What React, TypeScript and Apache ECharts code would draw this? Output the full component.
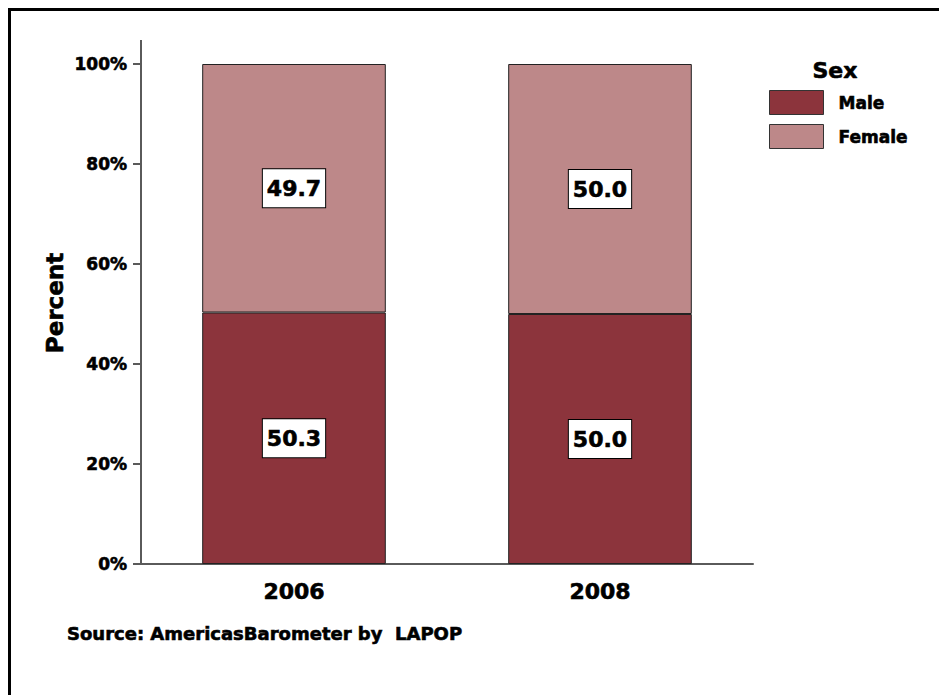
import React, { useEffect, useRef } from "react";
import * as echarts from "echarts";

const years = ["2006", "2008"];
const maleValues = [50.3, 50.0];
const femaleValues = [49.7, 50.0];
const yTicks = { min: 0, max: 100, interval: 20 };
const seriesNames = ["Male", "Female"];
const legendTitle = "Sex";
const axisTitle = "Percent";
const sourceText = "Source: AmericasBarometer by  LAPOP";

const FONT = "DejaVu Sans";
const MALE_COLOR = "#8c343c";
const FEMALE_COLOR = "#bd8889";
const AXIS_COLOR = "#5a5a5a";
const HEAVY = { textBorderColor: "#000000", textBorderWidth: 0.6 };

export default function App() {
  const ref = useRef<HTMLDivElement>(null);
  useEffect(() => {
    document.body.style.margin = "0";
    const chart = echarts.init(ref.current!, null, { renderer: "svg" });
    const labelStyle = {
      show: true,
      position: "inside",
      formatter: (p: any) => Number(p.value).toFixed(1),
      backgroundColor: "#ffffff",
      borderColor: "#000000",
      borderWidth: 1,
      padding: [9, 4, 7, 4],
      color: "#000000",
      fontFamily: FONT,
      fontWeight: "bold",
      fontSize: 22,
      ...HEAVY,
    };
    chart.setOption({
      animation: false,
      backgroundColor: "#ffffff",
      grid: { left: 141, right: 186, top: 64, bottom: 131 },
      legend: {
        orient: "vertical",
        left: 764,
        top: 85,
        itemWidth: 54,
        itemHeight: 24,
        itemGap: 9,
        icon: "rect",
        data: seriesNames,
        itemStyle: { borderColor: "#333333", borderWidth: 1 },
        textStyle: {
          fontFamily: FONT,
          fontWeight: "bold",
          fontSize: 17,
          color: "#000000",
          padding: [0, 0, 0, 10],
          ...HEAVY,
        },
      },
      xAxis: {
        type: "category",
        data: years,
        axisLine: { lineStyle: { color: AXIS_COLOR, width: 2 } },
        axisTick: { show: false },
        axisLabel: {
          margin: 16,
          fontFamily: FONT,
          fontWeight: "bold",
          fontSize: 22,
          color: "#000000",
          ...HEAVY,
        },
      },
      yAxis: {
        type: "value",
        min: yTicks.min,
        max: yTicks.max,
        interval: yTicks.interval,
        splitLine: { show: false },
        axisLine: { show: true, lineStyle: { color: AXIS_COLOR, width: 2 } },
        axisTick: { show: true, length: 8, lineStyle: { color: AXIS_COLOR, width: 2 } },
        axisLabel: {
          margin: 14,
          formatter: "{value}%",
          fontFamily: FONT,
          fontWeight: "bold",
          fontSize: 17,
          color: "#000000",
          ...HEAVY,
        },
      },
      series: [
        {
          name: seriesNames[0],
          type: "bar",
          stack: "total",
          barWidth: "60%",
          data: maleValues,
          itemStyle: { color: MALE_COLOR, borderColor: "#222222", borderWidth: 1 },
          label: labelStyle,
        },
        {
          name: seriesNames[1],
          type: "bar",
          stack: "total",
          barWidth: "60%",
          data: femaleValues,
          itemStyle: { color: FEMALE_COLOR, borderColor: "#222222", borderWidth: 1 },
          label: labelStyle,
        },
      ],
      graphic: [
        {
          type: "rect",
          shape: { x: 9.5, y: 9.5, width: 1000, height: 1000 },
          style: { fill: "none", stroke: "#000000", lineWidth: 3 },
          silent: true,
        },
        {
          type: "line",
          shape: { x1: 141, y1: 40, x2: 141, y2: 65 },
          style: { stroke: AXIS_COLOR, lineWidth: 2 },
          silent: true,
        },
        {
          type: "text",
          x: 55,
          y: 303,
          rotation: Math.PI / 2,
          style: {
            text: axisTitle,
            fontFamily: FONT,
            fontWeight: "bold",
            fontSize: 23,
            fill: "#000000",
            stroke: "#000000",
            lineWidth: 0.6,
            textAlign: "center",
            textVerticalAlign: "middle",
          },
        },
        {
          type: "text",
          x: 835,
          y: 70,
          style: {
            text: legendTitle,
            fontFamily: FONT,
            fontWeight: "bold",
            fontSize: 22,
            fill: "#000000",
            stroke: "#000000",
            lineWidth: 0.6,
            textAlign: "center",
            textVerticalAlign: "middle",
          },
        },
        {
          type: "text",
          x: 67,
          y: 633,
          style: {
            text: sourceText,
            fontFamily: FONT,
            fontWeight: "bold",
            fontSize: 18,
            fill: "#000000",
            stroke: "#000000",
            lineWidth: 0.6,
            textAlign: "left",
            textVerticalAlign: "middle",
          },
        },
      ],
    });
    return () => chart.dispose();
  }, []);
  return <div ref={ref} style={{ width: 939, height: 695 }} />;
}
